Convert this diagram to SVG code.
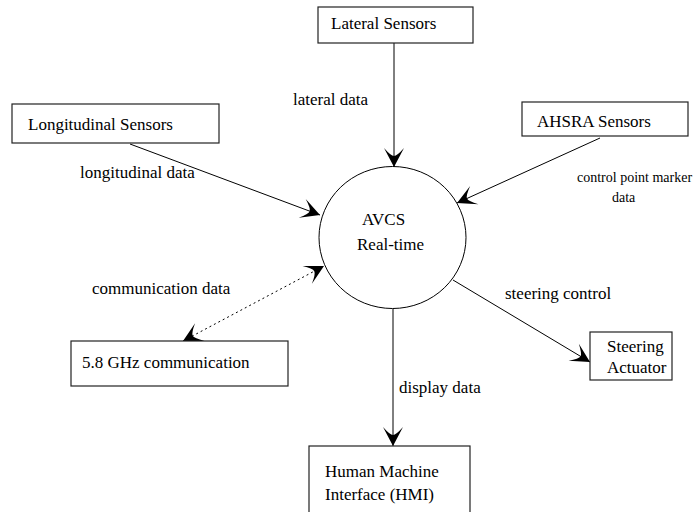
<svg xmlns="http://www.w3.org/2000/svg" width="695" height="512" viewBox="0 0 695 512">
<style>
text{font-family:"Liberation Serif","Times New Roman",serif;font-size:17px;fill:#000}
.box{fill:#fff;stroke:#222;stroke-width:1.2}
.ln{fill:none;stroke:#000;stroke-width:1}
.dot{fill:none;stroke:#000;stroke-width:1;stroke-dasharray:2 3}
.sm{font-size:14px}
</style>
<defs>
<marker id="ah" viewBox="-20 -11 21 22" markerWidth="21" markerHeight="22" refX="0" refY="0" orient="auto-start-reverse" markerUnits="userSpaceOnUse">
<path d="M0,0 L-19,-10 Q-11,-3 -11,0 Q-11,3 -19,10 Z" fill="#000"/>
</marker>
</defs>
<rect width="695" height="512" fill="#fff"/>
<g id="connectors">
<line class="ln" x1="394" y1="43" x2="394" y2="167" marker-end="url(#ah)"/>
<line class="ln" x1="130" y1="144" x2="320" y2="215" marker-end="url(#ah)"/>
<line class="ln" x1="600" y1="138" x2="457" y2="203" marker-end="url(#ah)"/>
<line class="dot" x1="183" y1="341" x2="324" y2="266" marker-start="url(#ah)" marker-end="url(#ah)"/>
<line class="ln" x1="453" y1="280" x2="590" y2="362" marker-end="url(#ah)"/>
<line class="ln" x1="393" y1="309" x2="393" y2="446" marker-end="url(#ah)"/>
<text x="293" y="105">lateral data</text>
<text x="80" y="178">longitudinal data</text>
<text class="sm" x="577" y="182">control point marker</text>
<text class="sm" x="612" y="202">data</text>
<text x="92" y="294">communication data</text>
<text x="505" y="299">steering control</text>
<text x="399" y="393">display data</text>
</g>
<g id="avcs">
<ellipse cx="392.5" cy="237.5" rx="73.5" ry="71" fill="none" stroke="#000" stroke-width="1"/>
<text x="362" y="225">AVCS</text>
<text x="357" y="250">Real-time</text>
</g>
<g id="lateral">
<rect class="box" x="318" y="7" width="155" height="36"/>
<text x="331" y="29">Lateral Sensors</text>
</g>
<g id="longitudinal">
<rect class="box" x="12" y="104" width="207" height="39"/>
<text x="28" y="130">Longitudinal Sensors</text>
</g>
<g id="ahsra">
<rect class="box" x="522" y="102" width="166" height="34"/>
<text x="537" y="127">AHSRA Sensors</text>
</g>
<g id="comm">
<rect class="box" x="71" y="341" width="217" height="45"/>
<text x="82" y="368">5.8 GHz communication</text>
</g>
<g id="steering">
<rect class="box" x="590" y="332" width="82" height="48"/>
<text x="607" y="352">Steering</text>
<text x="607" y="373">Actuator</text>
</g>
<g id="hmi">
<rect class="box" x="309" y="446" width="161" height="80"/>
<text x="325" y="477">Human Machine</text>
<text x="325" y="500">Interface (HMI)</text>
</g>
</svg>
